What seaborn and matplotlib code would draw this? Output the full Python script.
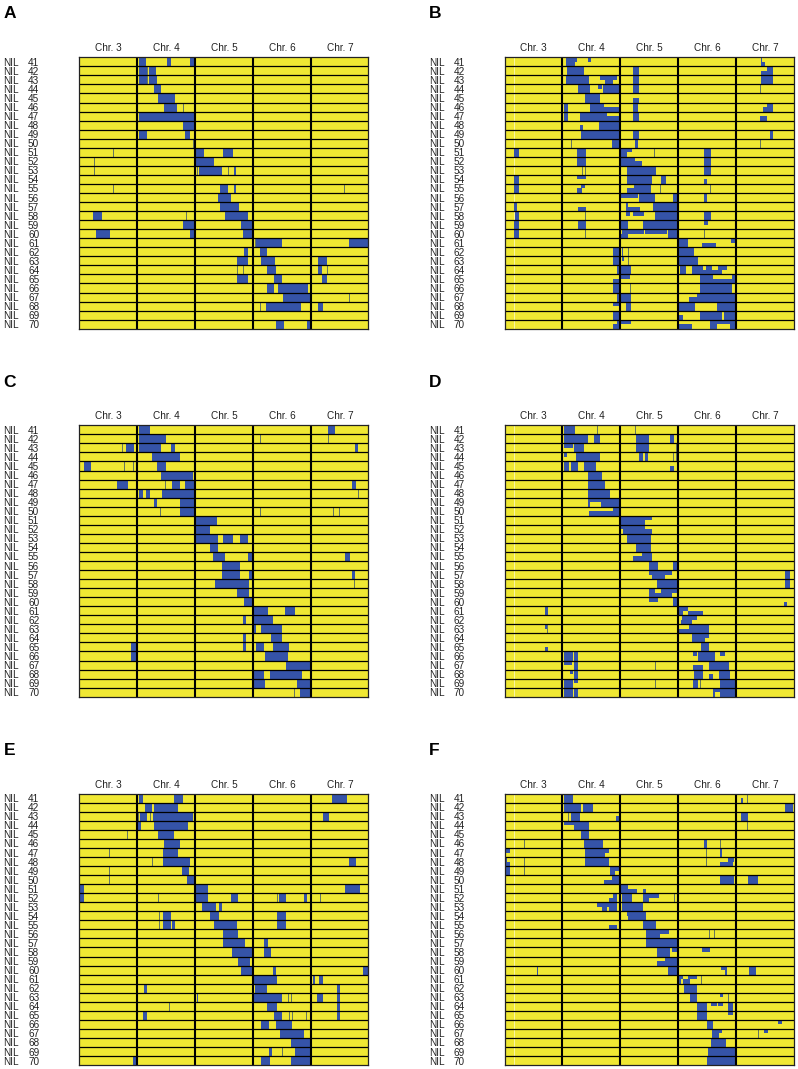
import numpy as np
import matplotlib
matplotlib.use('Agg')
import matplotlib.pyplot as plt
from matplotlib.colors import ListedColormap
import seaborn as sns

NILS = list(range(41, 71))
CHROMS = ['Chr. 3', 'Chr. 4', 'Chr. 5', 'Chr. 6', 'Chr. 7']
MARKERS_PER_CHROM = 174
PALE_MARKER = 29

# blue stretches per NIL as (first marker, last marker), 't'/'b' = upper or lower half of the row
A_SEG = [
    [(180, 201), (264, 276), (333, 346)], [(180, 204), (210, 230)], [(180, 204), (210, 234)], [(225, 247)],
    [(236, 288)], [(255, 294)], [(180, 346)], [(312, 346)], [(180, 204), (318, 333)], [],
    [(350, 375), (433, 461)], [(350, 405)], [(359, 429), (464, 472)], [], [(423, 448), (464, 472)],
    [(417, 457)], [(423, 481)], [(42, 69), (438, 508)], [(311, 346), (486, 520)], [(51, 93), (333, 346), (492, 520)],
    [(531, 609), (809, 868)], [(496, 508), (542, 564)], [(474, 508), (547, 589), (717, 745)],
    [(565, 591), (717, 729)], [(474, 508), (586, 609), (729, 745)], [(563, 584), (598, 688)], [(613, 696)],
    [(560, 665), (717, 732)], [], [(592, 616), (684, 694)],
]
A_THIN = [(42, 206), (43, 206), (46, 312), (50, 343), (51, 103), (52, 45), (53, 45), (53, 356), (53, 449), (55, 103),
          (55, 795), (58, 321), (61, 528), (64, 476), (64, 492), (64, 744), (67, 810), (68, 544)]

B_SEG = [
    [(183, 212), (212, 218, 't'), (251, 258, 't'), (768, 772), (768, 780, 'b')],
    [(186, 239), (386, 404), (786, 806, 't'), (768, 806, 'b')],
    [(183, 254), (286, 336, 't'), (301, 326, 'b'), (386, 404), (768, 804)],
    [(219, 256), (279, 291, 't'), (296, 346), (386, 404)],
    [(241, 286), (386, 404, 'b')],
    [(177, 189), (256, 299), (299, 343, 'b'), (386, 401), (786, 806, 't'), (776, 806, 'b')],
    [(177, 189), (226, 306), (306, 343, 'b'), (386, 404), (766, 788, 'b')],
    [(226, 236, 'b'), (283, 343)],
    [(229, 343), (386, 404), (796, 806)],
    [(321, 343), (391, 401)],
    [(29, 42), (218, 243), (350, 381, 't'), (350, 368, 'b'), (598, 618)],
    [(218, 243), (350, 391), (391, 411, 'b'), (598, 618)],
    [(366, 454), (598, 618)],
    [(29, 42), (218, 243, 't'), (366, 441), (468, 484), (598, 606, 'b')],
    [(29, 42), (229, 241, 't'), (218, 231, 'b'), (388, 438), (366, 388, 'b')],
    [(404, 451), (350, 401, 't'), (506, 520), (598, 606)],
    [(29, 36), (221, 244, 'b'), (364, 371), (364, 406, 'b'), (446, 520)],
    [(31, 42), (364, 376, 't'), (451, 520), (598, 618), (386, 418, 't')],
    [(29, 42), (219, 243), (350, 371), (416, 520), (598, 611, 't')],
    [(29, 42), (352, 418, 't'), (350, 371, 'b'), (421, 486, 't'), (491, 520)],
    [(523, 551), (591, 634, 'b'), (678, 693, 't')],
    [(324, 343), (351, 356), (523, 568)],
    [(326, 343), (352, 358, 't'), (523, 580)],
    [(336, 343), (350, 378), (526, 544), (561, 596), (604, 621, 't'), (641, 666, 't'), (596, 651, 'b')],
    [(326, 343, 'b'), (350, 376, 't'), (586, 626), (626, 693, 'b'), (681, 693)],
    [(324, 343), (586, 681)],
    [(336, 343), (350, 378), (576, 693, 't'), (554, 693, 'b')],
    [(324, 343, 't'), (363, 379), (523, 556), (556, 571, 't'), (523, 571, 'b'), (636, 693)],
    [(324, 343), (523, 536, 'b'), (586, 651), (658, 693)],
    [(336, 343), (324, 343, 'b'), (350, 379, 't'), (523, 561, 'b'), (616, 636), (636, 693, 't'), (676, 693)],
]
B_THIN = [(44, 768), (50, 199), (50, 768), (51, 449), (53, 232), (53, 243), (55, 466), (55, 616), (58, 243), (60, 241),
          (60, 598), (62, 372), (63, 372), (66, 376)]

C_SEG = [
    [(180, 212), (747, 767)], [(180, 261)], [(142, 165), (180, 246), (276, 289), (829, 838)], [(219, 303)],
    [(15, 35), (233, 260)], [(246, 343)], [(114, 147), (279, 304), (318, 346), (819, 832)],
    [(180, 193), (201, 213), (248, 346)], [(225, 233), (303, 346)], [(304, 346)],
    [(350, 413)], [(350, 393)], [(350, 417), (433, 462), (483, 506)], [(392, 418)],
    [(403, 439), (508, 520), (798, 813)], [(428, 483)], [(428, 484), (511, 520), (819, 829)], [(409, 511)],
    [(473, 509)], [(495, 520)], [(526, 566), (617, 648)], [(491, 501), (526, 582)], [(526, 532), (547, 609)],
    [(491, 501), (575, 608)], [(156, 173), (491, 501), (530, 556), (582, 630)], [(156, 173), (557, 628)],
    [(621, 692)], [(526, 555), (573, 669)], [(526, 557), (655, 692)], [(663, 692)],
]
C_THIN = [(42, 544), (42, 748), (43, 130), (45, 136), (45, 163), (47, 260), (48, 837), (50, 244), (50, 544), (50, 764),
          (50, 781), (58, 827), (70, 647)]

D_SEG = [
    [(177, 210)], [(177, 251), (268, 286), (394, 433), (496, 508)], [(177, 206, 't'), (208, 238), (394, 433)],
    [(177, 186, 't'), (214, 286), (404, 414), (421, 431)], [(177, 194), (198, 221), (238, 273), (496, 508, 'b')],
    [(251, 291)], [(251, 302)], [(251, 316)], [(251, 256), (256, 289, 't'), (289, 343)],
    [(253, 326, 'b'), (326, 343)], [(350, 441, 't'), (350, 421, 'b')], [(350, 356, 't'), (356, 421), (421, 441, 'b')],
    [(368, 439)], [(394, 439)], [(411, 441, 't'), (386, 441, 'b')], [(433, 459), (506, 518)],
    [(433, 501, 't'), (441, 481, 'b'), (841, 856)], [(458, 516), (841, 856)],
    [(433, 452), (468, 518, 't'), (452, 501, 'b')], [(433, 461, 't'), (506, 518), (838, 846, 'b')],
    [(122, 129), (523, 551, 't'), (523, 536, 'b'), (551, 596, 'b')], [(533, 576, 't'), (529, 561, 'b')],
    [(122, 129, 't'), (554, 614, 't'), (523, 614, 'b')], [(561, 614, 't'), (561, 601, 'b')],
    [(122, 129, 'b'), (589, 614)], [(177, 204), (208, 221), (566, 576, 't'), (581, 631), (646, 661, 't')],
    [(177, 201, 't'), (208, 221), (566, 596, 'b'), (614, 673)],
    [(196, 204, 't'), (208, 221), (568, 594), (612, 626, 'b'), (644, 676)],
    [(177, 204), (208, 221, 't'), (566, 579), (646, 693)], [(177, 204), (208, 221), (624, 693, 't'), (646, 693, 'b'), (624, 631, 'b')],
]
D_THIN = [(41, 279), (41, 393), (43, 516), (44, 506), (44, 516), (46, 343), (63, 127), (67, 453), (69, 453), (69, 586)]

E_SEG = [
    [(180, 192), (286, 311), (759, 803)], [(199, 220), (225, 298)], [(182, 204), (223, 342), (733, 749)],
    [(177, 185), (225, 327)], [(236, 286)], [(255, 303)], [(253, 297)], [(253, 333), (810, 830)], [(310, 331)],
    [(323, 346)], [(3, 15), (350, 386), (798, 842)], [(3, 15), (350, 386), (456, 477), (599, 621), (675, 683)],
    [(369, 411), (420, 430)], [(252, 275), (393, 420), (593, 621)], [(252, 275), (279, 289), (405, 473), (593, 621)],
    [(431, 476)], [(432, 498), (555, 568)], [(459, 520), (555, 576)], [(478, 513)], [(485, 520), (581, 591), (853, 868)],
    [(526, 594), (703, 709), (719, 733)], [(195, 204), (528, 564), (773, 782)],
    [(353, 357), (526, 609), (714, 733), (773, 782)], [(563, 594), (773, 782)], [(192, 204), (586, 609), (773, 782)],
    [(547, 569), (591, 639)], [(603, 675)], [(636, 694)], [(571, 580), (648, 694)], [(163, 173), (547, 574), (636, 694)],
]
E_THIN = [(43, 179), (43, 214), (45, 145), (47, 90), (48, 220), (49, 90), (50, 90), (52, 239), (52, 595), (52, 723),
          (54, 240), (55, 240), (63, 629), (63, 638), (64, 271), (65, 631), (65, 641), (65, 683), (69, 609)]

F_SEG = [
    [(177, 204), (708, 714, 'b')], [(177, 228), (235, 266), (841, 866)], [(200, 226), (334, 343, 'b'), (709, 729)],
    [(177, 208, 't'), (208, 254)], [(230, 254)], [(238, 294), (598, 606)],
    [(2, 16, 't'), (241, 314, 't'), (241, 301, 'b'), (646, 651)],
    [(2, 8, 't'), (2, 16, 'b'), (241, 314), (646, 686, 'b'), (671, 688, 't')],
    [(2, 16), (316, 343, 't'), (316, 331, 'b')], [(321, 343, 't'), (298, 343, 'b'), (646, 688), (730, 760)],
    [(350, 371, 't'), (350, 396, 'b'), (416, 424, 'b')],
    [(324, 338, 't'), (314, 338, 'b'), (352, 383), (416, 462, 't'), (416, 434, 'b')],
    [(278, 336, 't'), (291, 306, 'b'), (313, 336, 'b'), (352, 416)],
    [(366, 383, 't'), (383, 424), (369, 386, 'b')], [(314, 338, 'b'), (414, 453)],
    [(424, 493, 't'), (424, 466, 'b')], [(424, 518)], [(458, 496), (501, 518, 't'), (592, 616, 't')],
    [(481, 518, 't'), (456, 518, 'b')], [(96, 101), (491, 518), (648, 666, 't'), (661, 666, 'b'), (732, 754)],
    [(523, 536, 't'), (551, 576, 't'), (536, 556, 'b'), (523, 530, 'b')], [(539, 576)],
    [(556, 576), (646, 654, 't')], [(576, 608), (619, 636, 't'), (641, 654, 't'), (671, 686)],
    [(576, 608), (671, 686, 't')], [(606, 626), (820, 832, 't')],
    [(622, 651, 't'), (622, 644, 'b'), (779, 790, 't')], [(618, 664)], [(611, 693)], [(606, 693)],
]
F_THIN = [(41, 728), (43, 191), (44, 728), (46, 59), (46, 646), (47, 604), (48, 59), (48, 604), (49, 59), (52, 509),
          (52, 691), (56, 614), (56, 629), (61, 589), (63, 671), (67, 761)]

PANELS = ['A', 'B', 'C', 'D', 'E', 'F']
SEGMENTS = [A_SEG, B_SEG, C_SEG, D_SEG, E_SEG, F_SEG]
THIN = [A_THIN, B_THIN, C_THIN, D_THIN, E_THIN, F_THIN]

YELLOW = '#F0E833'
BLUE = '#3553A8'
GREY = '#66775F'
PALE = '#F8F4A0'


def panel_matrix(segments, thin):
    mat = np.zeros((2 * len(NILS), 5 * MARKERS_PER_CHROM - 2), dtype=int)
    mat[:, PALE_MARKER:PALE_MARKER + 2] = 3
    for i, row in enumerate(segments):
        for seg in row:
            if len(seg) == 3:
                sub = 2 * i if seg[2] == 't' else 2 * i + 1
                mat[sub, seg[0]:seg[1]] = 1
            else:
                mat[2 * i:2 * i + 2, seg[0]:seg[1]] = 1
    for nil, pos in thin:
        i = nil - NILS[0]
        mat[2 * i:2 * i + 2, pos - 1:pos + 2] = 2
    return mat


sns.set_style('white')
plt.rcParams['font.family'] = ['Liberation Sans', 'DejaVu Sans']

W, H = 798, 1069
fig = plt.figure(figsize=(W / 100, H / 100), dpi=100)
lefts = [79, 504.7]
tops = [57.3, 425.3, 793.7]
letter_y = [18, 387, 755]
cmap = ListedColormap([YELLOW, BLUE, GREY, PALE])

for k, name in enumerate(PANELS):
    left = lefts[k % 2]
    top = tops[k // 2]
    ax = fig.add_axes([left / W, 1 - (top + 271.4) / H, 289.4 / W, 271.4 / H])
    mat = panel_matrix(SEGMENTS[k], THIN[k])
    sns.heatmap(mat, ax=ax, cmap=cmap, vmin=-0.5, vmax=3.5, cbar=False, xticklabels=False, yticklabels=False)

    ax.hlines(np.arange(1, len(NILS)) * 2, 0, mat.shape[1], color='black', lw=0.9)
    ax.vlines(np.arange(1, 5) * MARKERS_PER_CHROM - 1, 0, mat.shape[0], color='black', lw=1.5)
    for spine in ax.spines.values():
        spine.set_visible(True)
        spine.set_color('#222222')
        spine.set_linewidth(0.9)

    ax.xaxis.tick_top()
    ax.set_xticks((np.arange(5) + 0.5) * MARKERS_PER_CHROM)
    ax.set_xticklabels(CHROMS, fontsize=7.2, color='#222222')
    ax.set_yticks(np.arange(len(NILS)) * 2 + 1)
    ax.set_yticklabels([str(n) for n in NILS], fontsize=7.2, color='#222222', rotation=0, ha='left')
    ax.tick_params(axis='x', length=0, pad=3)
    ax.tick_params(axis='y', length=0, pad=36.7)
    for n, y in zip(NILS, ax.get_yticks()):
        ax.annotate('NIL', xy=(0, y), xycoords=('axes fraction', 'data'), xytext=(-54.7, 0),
                    textcoords='offset points', ha='left', va='center_baseline', fontsize=7.2, color='#222222')

    fig.text((left - 75.5) / W, 1 - letter_y[k // 2] / H, name, fontsize=12.5, fontweight='bold',
             color='black', ha='left', va='baseline')

fig.savefig('out.png', dpi=100)
